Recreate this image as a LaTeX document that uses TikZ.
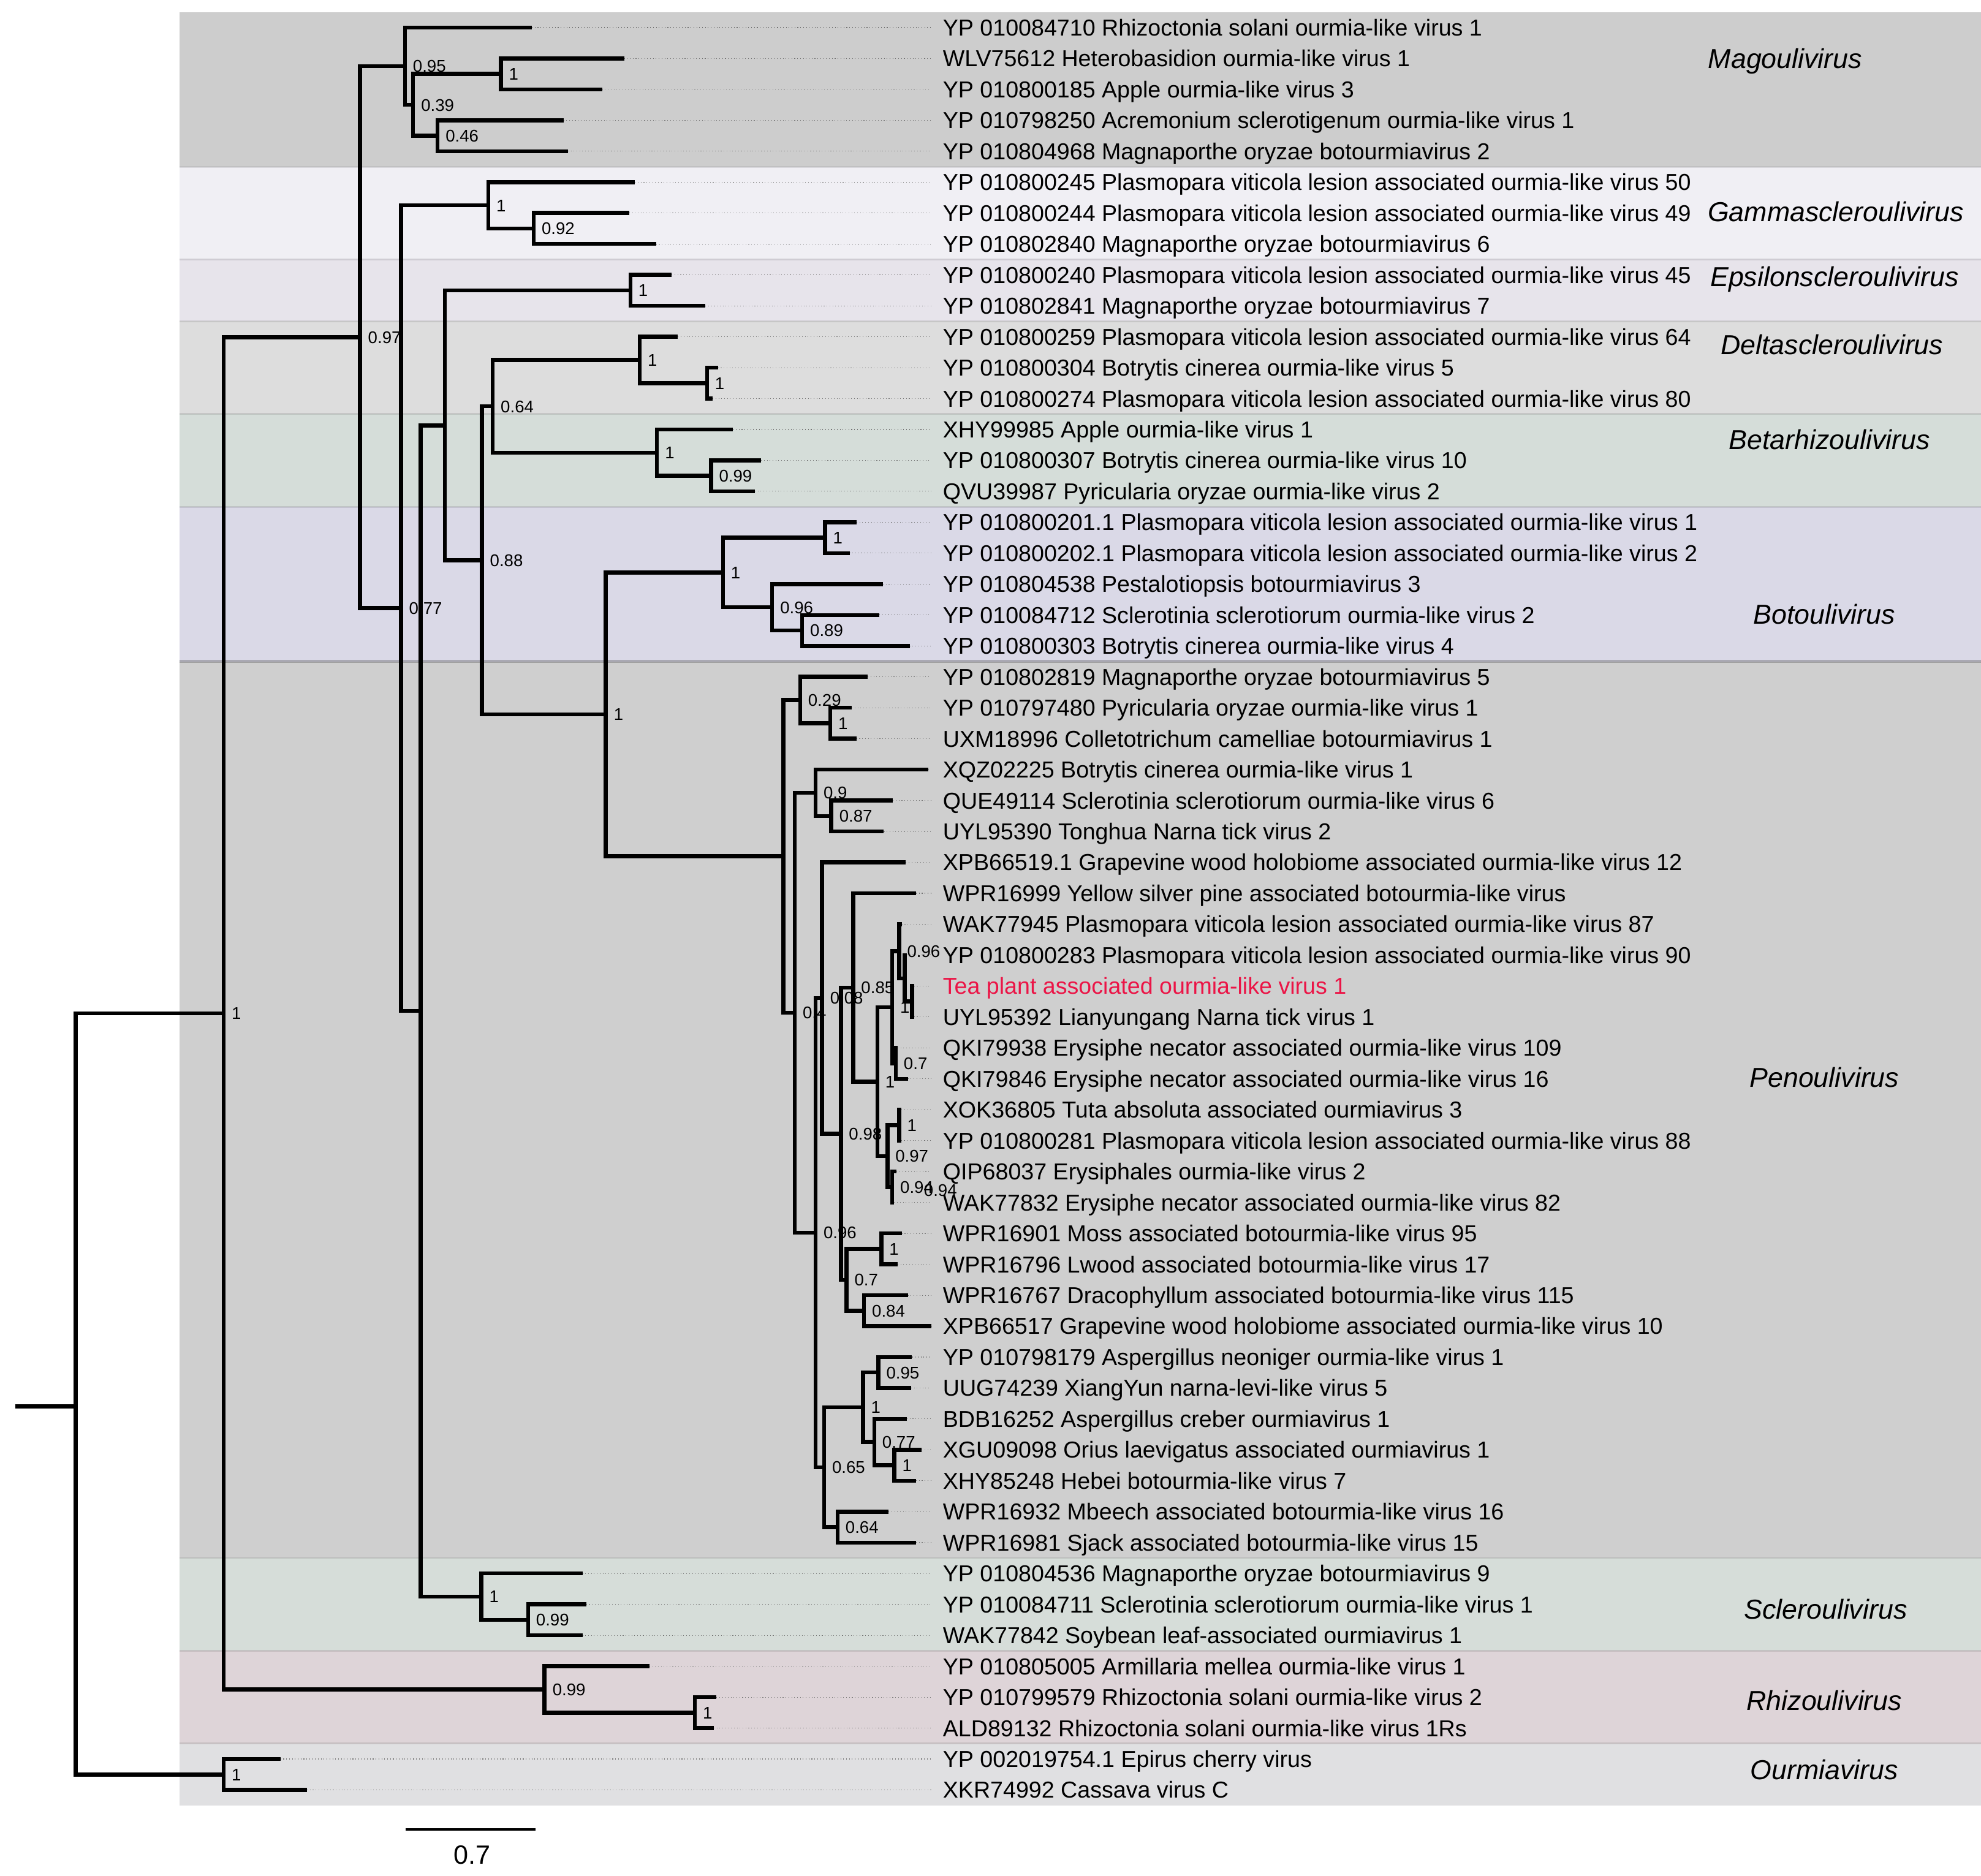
\documentclass[tikz,border=0pt]{standalone}
\usepackage{fontspec}
\setmainfont{Liberation Sans}
\definecolor{bandMago}{RGB}{205,205,205}
\definecolor{bandGamma}{RGB}{240,239,244}
\definecolor{bandEps}{RGB}{231,228,235}
\definecolor{bandDelta}{RGB}{221,221,221}
\definecolor{bandBeta}{RGB}{213,221,217}
\definecolor{bandBoto}{RGB}{218,217,231}
\definecolor{bandPeno}{RGB}{207,207,207}
\definecolor{bandSclero}{RGB}{214,221,217}
\definecolor{bandRhizo}{RGB}{222,212,216}
\definecolor{bandOurmia}{RGB}{224,224,226}
\definecolor{teared}{RGB}{235,20,70}
\begin{document}
\begin{tikzpicture}[x=0.2mm, y=-4.895mm,
    branch/.style={line width=1.8pt},
    leader/.style={densely dotted, line width=0.3pt, black!55, shorten >=1.8mm},
    tiplab/.style={anchor=west, inner sep=0pt, text height=7.43pt, text depth=0pt, font=\fontsize{10.38}{12}\selectfont},
    supp/.style={anchor=west, inner sep=0pt, xshift=1.2mm, text height=5.46pt, text depth=0pt, font=\fontsize{7.62}{9}\selectfont},
    clade/.style={inner sep=0pt, text height=8.84pt, text depth=0pt, font=\fontsize{12.35}{14}\selectfont\itshape},
    sep/.style={line width=0.8pt, black, opacity=0.1}]
    \useasboundingbox (0,0.1093) rectangle (1568,60.784);
    % clade bands
    \fill[bandMago] (142,0.5) rectangle (1568,5.5);
    \fill[bandGamma] (142,5.5) rectangle (1568,8.5);
    \fill[bandEps] (142,8.5) rectangle (1568,10.5);
    \fill[bandDelta] (142,10.5) rectangle (1568,13.5);
    \fill[bandBeta] (142,13.5) rectangle (1568,16.5);
    \fill[bandBoto] (142,16.5) rectangle (1568,21.5);
    \fill[bandPeno] (142,21.5) rectangle (1568,50.5);
    \fill[bandSclero] (142,50.5) rectangle (1568,53.5);
    \fill[bandRhizo] (142,53.5) rectangle (1568,56.5);
    \fill[bandOurmia] (142,56.5) rectangle (1568,58.5);
    \foreach \b in {5.5,8.5,10.5,13.5,16.5,50.5,53.5,56.5}
        \draw[sep] (142,\b) -- (1568,\b);
    \draw[sep, line width=1.5pt, opacity=0.22] (142,21.5) -- (1568,21.5);
    % clade names
    \node[clade] (cMago) at (1413,2) {Magoulivirus};
    \node[clade] (cGamma) at (1453,6.95) {Gammascleroulivirus};
    \node[clade] (cEps) at (1452,9.06) {Epsilonscleroulivirus};
    \node[clade] (cDelta) at (1450,11.26) {Deltascleroulivirus};
    \node[clade] (cBeta) at (1448,14.33) {Betarhizoulivirus};
    \node[clade] (cBoto) at (1444,19.97) {Botoulivirus};
    \node[clade] (cPeno) at (1444,34.96) {Penoulivirus};
    \node[clade] (cSclero) at (1445,52.16) {Scleroulivirus};
    \node[clade] (cRhizo) at (1444,55.1) {Rhizoulivirus};
    \node[clade] (cOurmia) at (1444,57.35) {Ourmiavirus};
    % tips, leaders and names
    \foreach \tx/\tc/\tname [count=\i] in {
        421/black/{YP 010084710 Rhizoctonia solani ourmia-like virus 1},
        494/black/{WLV75612 Heterobasidion ourmia-like virus 1},
        476.6/black/{YP 010800185 Apple ourmia-like virus 3},
        446/black/{YP 010798250 Acremonium sclerotigenum ourmia-like virus 1},
        449.5/black/{YP 010804968 Magnaporthe oryzae botourmiavirus 2},
        502.6/black/{YP 010800245 Plasmopara viticola lesion associated ourmia-like virus 50},
        498/black/{YP 010800244 Plasmopara viticola lesion associated ourmia-like virus 49},
        519.3/black/{YP 010802840 Magnaporthe oryzae botourmiavirus 6},
        531.7/black/{YP 010800240 Plasmopara viticola lesion associated ourmia-like virus 45},
        558.4/black/{YP 010802841 Magnaporthe oryzae botourmiavirus 7},
        536.6/black/{YP 010800259 Plasmopara viticola lesion associated ourmia-like virus 64},
        568.3/black/{YP 010800304 Botrytis cinerea ourmia-like virus 5},
        564.1/black/{YP 010800274 Plasmopara viticola lesion associated ourmia-like virus 80},
        580.2/black/{XHY99985 Apple ourmia-like virus 1},
        602.4/black/{YP 010800307 Botrytis cinerea ourmia-like virus 10},
        597.5/black/{QVU39987 Pyricularia oryzae ourmia-like virus 2},
        678/black/{YP 010800201.1 Plasmopara viticola lesion associated ourmia-like virus 1},
        672.5/black/{YP 010800202.1 Plasmopara viticola lesion associated ourmia-like virus 2},
        698.9/black/{YP 010804538 Pestalotiopsis botourmiavirus 3},
        696.1/black/{YP 010084712 Sclerotinia sclerotiorum ourmia-like virus 2},
        720/black/{YP 010800303 Botrytis cinerea ourmia-like virus 4},
        686.8/black/{YP 010802819 Magnaporthe oryzae botourmiavirus 5},
        674.2/black/{YP 010797480 Pyricularia oryzae ourmia-like virus 1},
        677.9/black/{UXM18996 Colletotrichum camelliae botourmiavirus 1},
        734.8/black/{XQZ02225 Botrytis cinerea ourmia-like virus 1},
        706.8/black/{QUE49114 Sclerotinia sclerotiorum ourmia-like virus 6},
        699.6/black/{UYL95390 Tonghua Narna tick virus 2},
        717/black/{XPB66519.1 Grapevine wood holobiome associated ourmia-like virus 12},
        725.1/black/{WPR16999 Yellow silver pine associated botourmia-like virus},
        713.8/black/{WAK77945 Plasmopara viticola lesion associated ourmia-like virus 87},
        717.8/black/{YP 010800283 Plasmopara viticola lesion associated ourmia-like virus 90},
        723.5/teared/{Tea plant associated ourmia-like virus 1},
        723.5/black/{UYL95392 Lianyungang Narna tick virus 1},
        710.5/black/{QKI79938 Erysiphe necator associated ourmia-like virus 109},
        718.6/black/{QKI79846 Erysiphe necator associated ourmia-like virus 16},
        713.3/black/{XOK36805 Tuta absoluta associated ourmiavirus 3},
        713.3/black/{YP 010800281 Plasmopara viticola lesion associated ourmia-like virus 88},
        709.7/black/{QIP68037 Erysiphales ourmia-like virus 2},
        707.8/black/{WAK77832 Erysiphe necator associated ourmia-like virus 82},
        713.8/black/{WPR16901 Moss associated botourmia-like virus 95},
        710.5/black/{WPR16796 Lwood associated botourmia-like virus 17},
        718.6/black/{WPR16767 Dracophyllum associated botourmia-like virus 115},
        737.2/black/{XPB66517 Grapevine wood holobiome associated ourmia-like virus 10},
        721.9/black/{YP 010798179 Aspergillus neoniger ourmia-like virus 1},
        721.1/black/{UUG74239 XiangYun narna-levi-like virus 5},
        717.8/black/{BDB16252 Aspergillus creber ourmiavirus 1},
        729.5/black/{XGU09098 Orius laevigatus associated ourmiavirus 1},
        725.1/black/{XHY85248 Hebei botourmia-like virus 7},
        703.3/black/{WPR16932 Mbeech associated botourmia-like virus 16},
        725.1/black/{WPR16981 Sjack associated botourmia-like virus 15},
        461/black/{YP 010804536 Magnaporthe oryzae botourmiavirus 9},
        464/black/{YP 010084711 Sclerotinia sclerotiorum ourmia-like virus 1},
        461/black/{WAK77842 Soybean leaf-associated ourmiavirus 1},
        514/black/{YP 010805005 Armillaria mellea ourmia-like virus 1},
        567/black/{YP 010799579 Rhizoctonia solani ourmia-like virus 2},
        565/black/{ALD89132 Rhizoctonia solani ourmia-like virus 1Rs},
        222/black/{YP 002019754.1 Epirus cherry virus},
        243/black/{XKR74992 Cassava virus C}} {
        \coordinate (t\i) at (\tx,\i);
        \node[tiplab, text=\tc] (l\i) at (746,\i) {\tname};
        \draw[leader] (t\i) -- (l\i.west);
    }
    % internal nodes
    \coordinate (m0) at (320.5,2.25);
    \coordinate (m1) at (327,3.5);
    \coordinate (m2) at (396.5,2.5);
    \coordinate (m3) at (346.4,4.5);
    \coordinate (g0) at (386.5,6.75);
    \coordinate (g1) at (422.4,7.5);
    \coordinate (e0) at (499,9.5);
    \coordinate (d0) at (506.4,11.75);
    \coordinate (d1) at (559.6,12.5);
    \coordinate (b0) at (520,14.75);
    \coordinate (b1) at (562.8,15.5);
    \coordinate (n064) at (390,13.25);
    \coordinate (bo1) at (572.2,18.625);
    \coordinate (bo2) at (653,17.5);
    \coordinate (bo3) at (611.2,19.75);
    \coordinate (bo4) at (634.9,20.5);
    \coordinate (pa) at (633.3,22.75);
    \coordinate (pb) at (657.2,23.5);
    \coordinate (pc) at (645.5,25.75);
    \coordinate (pd) at (658,26.5);
    \coordinate (q2) at (721.8,32.5);
    \coordinate (q1) at (716.2,31.75);
    \coordinate (q096) at (711.7,30.875);
    \coordinate (q07) at (709,34.5);
    \coordinate (qh) at (706.2,32.6875);
    \coordinate (q1c) at (711.7,36.5);
    \coordinate (q094) at (706.2,38.5);
    \coordinate (q097) at (702.4,37.5);
    \coordinate (q1d) at (694.4,35.094);
    \coordinate (q085) at (675.3,32.047);
    \coordinate (q1e) at (697.6,40.5);
    \coordinate (q084) at (683.9,42.5);
    \coordinate (q07b) at (670,41.5);
    \coordinate (q098) at (665.6,36.773);
    \coordinate (q008) at (650.7,32.387);
    \coordinate (r095) at (695.2,44.5);
    \coordinate (r1f) at (707.8,47.5);
    \coordinate (r077) at (692,46.75);
    \coordinate (r1g) at (683.1,45.625);
    \coordinate (r064) at (662.9,49.5);
    \coordinate (r065) at (652.3,47.5625);
    \coordinate (q096c) at (645.5,39.975);
    \coordinate (p04) at (629,32.862);
    \coordinate (p0) at (620,27.806);
    \coordinate (nb1) at (479.5,23.216);
    \coordinate (n088) at (381.5,18.233);
    \coordinate (nY) at (352,13.866);
    \coordinate (s0) at (381,51.75);
    \coordinate (s1) at (418,52.5);
    \coordinate (nX) at (333,32.808);
    \coordinate (n077) at (317.5,19.779);
    \coordinate (n097) at (285,11.015);
    \coordinate (r0) at (431,54.75);
    \coordinate (r1) at (550,55.5);
    \coordinate (nin) at (177,32.882);
    \coordinate (o0) at (177,57.5);
    \coordinate (root) at (60,45.6);
    \coordinate (stem) at (12,45.6);
    % support values
    \node[supp] (sm0) at (m0) {0.95};
    \node[supp] (sm1) at (m1) {0.39};
    \node[supp] (sm2) at (m2) {1};
    \node[supp] (sm3) at (m3) {0.46};
    \node[supp] (sg0) at (g0) {1};
    \node[supp] (sg1) at (g1) {0.92};
    \node[supp] (se0) at (e0) {1};
    \node[supp] (sd0) at (d0) {1};
    \node[supp] (sd1) at (d1) {1};
    \node[supp] (sb0) at (b0) {1};
    \node[supp] (sb1) at (b1) {0.99};
    \node[supp] (sn064) at (n064) {0.64};
    \node[supp] (sbo1) at (bo1) {1};
    \node[supp] (sbo2) at (bo2) {1};
    \node[supp] (sbo3) at (bo3) {0.96};
    \node[supp] (sbo4) at (bo4) {0.89};
    \node[supp] (spa) at (pa) {0.29};
    \node[supp] (spb) at (pb) {1};
    \node[supp] (spc) at (pc) {0.9};
    \node[supp] (spd) at (pd) {0.87};
    \node[supp] (sq096) at (q096) {0.96};
    \node[supp] (sq07) at (q07) {0.7};
    \node[supp] (sqh) at (qh) {1};
    \node[supp] (sq1c) at (q1c) {1};
    \node[supp] (sq094) at (q094) {0.94};
    \node[supp] (sq094b) at (725,38.6) {0.94};
    \node[supp] (sq097) at (q097) {0.97};
    \node[supp] (sq1d) at (q1d) {1};
    \node[supp] (sq085) at (q085) {0.85};
    \node[supp] (sq1e) at (q1e) {1};
    \node[supp] (sq084) at (q084) {0.84};
    \node[supp] (sq07b) at (q07b) {0.7};
    \node[supp] (sq098) at (q098) {0.98};
    \node[supp] (sq008) at (q008) {0.08};
    \node[supp] (sr095) at (r095) {0.95};
    \node[supp] (sr1f) at (r1f) {1};
    \node[supp] (sr077) at (r077) {0.77};
    \node[supp] (sr1g) at (r1g) {1};
    \node[supp] (sr064) at (r064) {0.64};
    \node[supp] (sr065) at (r065) {0.65};
    \node[supp] (sq096c) at (q096c) {0.96};
    \node[supp] (sp04) at (p04) {0.4};
    \node[supp] (snb1) at (nb1) {1};
    \node[supp] (sn088) at (n088) {0.88};
    \node[supp] (ss0) at (s0) {1};
    \node[supp] (ss1) at (s1) {0.99};
    \node[supp] (sn077) at (n077) {0.77};
    \node[supp] (sn097) at (n097) {0.97};
    \node[supp] (sr0) at (r0) {0.99};
    \node[supp] (sr1) at (r1) {1};
    \node[supp] (snin) at (nin) {1};
    \node[supp] (so0) at (o0) {1};
    % branches
    \draw[branch] (m0) |- (t1); \draw[branch] (m0) |- (m1);
    \draw[branch] (m1) |- (m2); \draw[branch] (m1) |- (m3);
    \draw[branch] (m2) |- (t2); \draw[branch] (m2) |- (t3);
    \draw[branch] (m3) |- (t4); \draw[branch] (m3) |- (t5);
    \draw[branch] (g0) |- (t6); \draw[branch] (g0) |- (g1);
    \draw[branch] (g1) |- (t7); \draw[branch] (g1) |- (t8);
    \draw[branch] (e0) |- (t9); \draw[branch] (e0) |- (t10);
    \draw[branch] (d0) |- (t11); \draw[branch] (d0) |- (d1);
    \draw[branch] (d1) |- (t12); \draw[branch] (d1) |- (t13);
    \draw[branch] (b0) |- (t14); \draw[branch] (b0) |- (b1);
    \draw[branch] (b1) |- (t15); \draw[branch] (b1) |- (t16);
    \draw[branch] (n064) |- (d0); \draw[branch] (n064) |- (b0);
    \draw[branch] (bo1) |- (bo2); \draw[branch] (bo1) |- (bo3);
    \draw[branch] (bo2) |- (t17); \draw[branch] (bo2) |- (t18);
    \draw[branch] (bo3) |- (t19); \draw[branch] (bo3) |- (bo4);
    \draw[branch] (bo4) |- (t20); \draw[branch] (bo4) |- (t21);
    \draw[branch] (pa) |- (t22); \draw[branch] (pa) |- (pb);
    \draw[branch] (pb) |- (t23); \draw[branch] (pb) |- (t24);
    \draw[branch] (pc) |- (t25); \draw[branch] (pc) |- (pd);
    \draw[branch] (pd) |- (t26); \draw[branch] (pd) |- (t27);
    \draw[branch] (q2) |- (t32); \draw[branch] (q2) |- (t33);
    \draw[branch] (q1) |- (t31); \draw[branch] (q1) |- (q2);
    \draw[branch] (q096) |- (t30); \draw[branch] (q096) |- (q1);
    \draw[branch] (q07) |- (t34); \draw[branch] (q07) |- (t35);
    \draw[branch] (qh) |- (q096); \draw[branch] (qh) |- (q07);
    \draw[branch] (q1c) |- (t36); \draw[branch] (q1c) |- (t37);
    \draw[branch] (q094) |- (t38); \draw[branch] (q094) |- (t39);
    \draw[branch] (q097) |- (q1c); \draw[branch] (q097) |- (q094);
    \draw[branch] (q1d) |- (qh); \draw[branch] (q1d) |- (q097);
    \draw[branch] (q085) |- (t29); \draw[branch] (q085) |- (q1d);
    \draw[branch] (q1e) |- (t40); \draw[branch] (q1e) |- (t41);
    \draw[branch] (q084) |- (t42); \draw[branch] (q084) |- (t43);
    \draw[branch] (q07b) |- (q1e); \draw[branch] (q07b) |- (q084);
    \draw[branch] (q098) |- (q085); \draw[branch] (q098) |- (q07b);
    \draw[branch] (q008) |- (t28); \draw[branch] (q008) |- (q098);
    \draw[branch] (r095) |- (t44); \draw[branch] (r095) |- (t45);
    \draw[branch] (r1f) |- (t47); \draw[branch] (r1f) |- (t48);
    \draw[branch] (r077) |- (t46); \draw[branch] (r077) |- (r1f);
    \draw[branch] (r1g) |- (r095); \draw[branch] (r1g) |- (r077);
    \draw[branch] (r064) |- (t49); \draw[branch] (r064) |- (t50);
    \draw[branch] (r065) |- (r1g); \draw[branch] (r065) |- (r064);
    \draw[branch] (q096c) |- (q008); \draw[branch] (q096c) |- (r065);
    \draw[branch] (p04) |- (pc); \draw[branch] (p04) |- (q096c);
    \draw[branch] (p0) |- (pa); \draw[branch] (p0) |- (p04);
    \draw[branch] (nb1) |- (bo1); \draw[branch] (nb1) |- (p0);
    \draw[branch] (n088) |- (n064); \draw[branch] (n088) |- (nb1);
    \draw[branch] (nY) |- (e0); \draw[branch] (nY) |- (n088);
    \draw[branch] (s0) |- (t51); \draw[branch] (s0) |- (s1);
    \draw[branch] (s1) |- (t52); \draw[branch] (s1) |- (t53);
    \draw[branch] (nX) |- (nY); \draw[branch] (nX) |- (s0);
    \draw[branch] (n077) |- (g0); \draw[branch] (n077) |- (nX);
    \draw[branch] (n097) |- (m0); \draw[branch] (n097) |- (n077);
    \draw[branch] (r0) |- (t54); \draw[branch] (r0) |- (r1);
    \draw[branch] (r1) |- (t55); \draw[branch] (r1) |- (t56);
    \draw[branch] (nin) |- (n097); \draw[branch] (nin) |- (r0);
    \draw[branch] (o0) |- (t57); \draw[branch] (o0) |- (t58);
    \draw[branch] (root) |- (nin); \draw[branch] (root) |- (o0);
    \draw[branch] (stem) -- (root);
    % scale bar
    \coordinate (sbA) at (321,59.27);
    \coordinate (sbB) at (424,59.27);
    \draw[line width=1.15pt] (sbA) -- (sbB);
    \node[inner sep=0pt, text height=8.52pt, text depth=0pt, font=\fontsize{11.9}{14}\selectfont] (sbl) at (373.8,60.09) {0.7};
\end{tikzpicture}
\end{document}
